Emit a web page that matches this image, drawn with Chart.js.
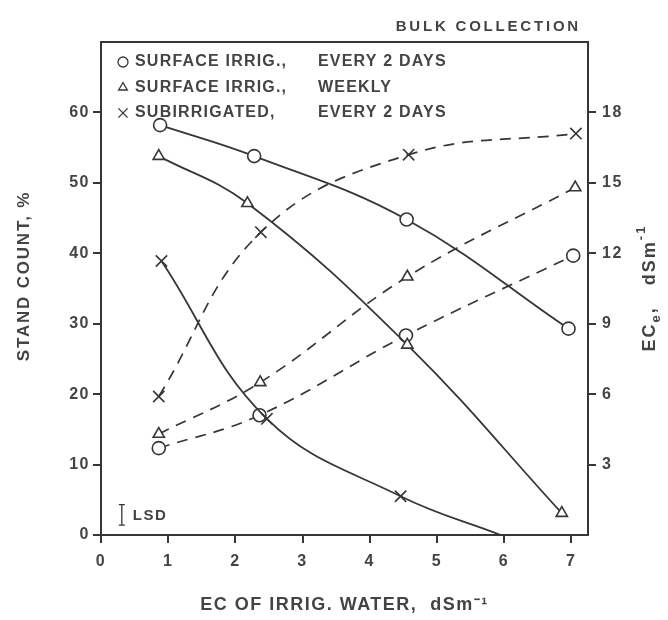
<!DOCTYPE html>
<html lang="en">
<head>
<meta charset="UTF-8">
<title>Stand count and ECe vs EC of irrigation water</title>
<script src="https://cdn.jsdelivr.net/npm/chart.js@4.4.1/dist/chart.umd.min.js"></script>
<style>
  html, body { margin: 0; padding: 0; background: #fff; }
  #wrap { width: 668px; height: 620px; }
</style>
</head>
<body>
<div id="wrap"><canvas id="myChart" width="668" height="620"></canvas></div>
<script>
// stand count, % (solid lines, left axis)
const surf2dX = [0.88, 2.28, 4.55, 6.96];
const surf2dStand = [58.2, 53.8, 44.8, 29.3];
const surfWkX = [0.86, 2.18, 4.56, 6.86];
const surfWkStand = [53.8, 47.1, 27.0, 3.1];
const subX = [0.90, 2.47, 4.46, 5.95];
const subStand = [38.9, 16.5, 5.5, 0];

// ECe, dS/m (dashed lines, right axis)
const surf2dEceX = [0.86, 2.36, 4.54, 7.03];
const surf2dEce = [3.7, 5.1, 8.5, 11.9];
const surfWkEceX = [0.86, 2.37, 4.56, 7.06];
const surfWkEce = [4.3, 6.5, 11.0, 14.8];
const subEceX = [0.86, 2.38, 4.58, 7.07];
const subEce = [5.9, 12.9, 16.2, 17.1];

// axis ticks
const xTicks = [0, 1, 2, 3, 4, 5, 6, 7];
const standTicks = [0, 10, 20, 30, 40, 50, 60];
const eceTicks = [3, 6, 9, 12, 15, 18];

// LSD bar (stand count units)
const lsdX = 0.31;
const lsdLow = 1.4;
const lsdHigh = 4.3;

const legendRows = [
    { style: 'circle', r: 5, a: 'SURFACE IRRIG.,', b: 'EVERY 2 DAYS' },
    { style: 'triangle', r: 5, a: 'SURFACE IRRIG.,', b: 'WEEKLY' },
    { style: 'crossRot', r: 6.5, a: 'SUBIRRIGATED,', b: 'EVERY 2 DAYS' }
];

const ink = '#363636';
const textInk = '#444';
const fam = "'Liberation Sans', Arial, sans-serif";

var pts = function(xs, ys) {
    return xs.map(function(x, i) { return { x: x, y: ys[i] }; });
};

var series = function(label, xs, ys, style, axis, dashed) {
    return {
        label: label,
        data: pts(xs, ys),
        yAxisID: axis,
        borderColor: ink,
        borderWidth: dashed ? 1.7 : 1.8,
        borderDash: dashed ? [11, 8] : [],
        pointStyle: style,
        pointRadius: style == 'crossRot' ? 8 : 6.5,
        pointBorderWidth: 1.6,
        pointBorderColor: ink,
        pointBackgroundColor: '#fff',
        tension: 0.4,
        fill: false
    };
};

var subSolid = series('Subirrigated, every 2 days', subX, subStand, 'crossRot', 'y', false);
subSolid.pointRadius = [8, 8, 8, 0];

var keepTicks = function(list) {
    return function(scale) {
        scale.ticks = list.map(function(v) { return { value: v }; });
    };
};

// draws text pieces along a baseline, small pieces shifted (sub/superscript)
var drawPieces = function(c, parts) {
    let w = 0;
    parts.forEach(function(p) { c.font = p.f; w += c.measureText(p.t).width; });
    let px = -w / 2;
    c.textAlign = 'left';
    parts.forEach(function(p) {
        c.font = p.f;
        c.fillText(p.t, px, p.dy);
        px += c.measureText(p.t).width;
    });
};

var paper = {
    id: 'paper',
    beforeDraw: function(chart) {
        const c = chart.ctx;
        c.save();
        c.fillStyle = '#fff';
        c.fillRect(0, 0, chart.width, chart.height);
        c.restore();
        c.letterSpacing = '1.5px';
    },
    afterDraw: function(chart) {
        const c = chart.ctx;
        const a = chart.chartArea;
        const xs = chart.scales.x, ys = chart.scales.y;
        c.save();
        // frame
        c.strokeStyle = ink;
        c.lineWidth = 2;
        c.strokeRect(a.left, a.top, a.right - a.left, a.bottom - a.top);

        // LSD bar
        const lx = xs.getPixelForValue(lsdX);
        const y1 = ys.getPixelForValue(lsdLow), y2 = ys.getPixelForValue(lsdHigh);
        c.lineWidth = 1.3;
        c.beginPath();
        c.moveTo(lx, y1); c.lineTo(lx, y2);
        c.moveTo(lx - 3, y1); c.lineTo(lx + 3, y1);
        c.moveTo(lx - 3, y2); c.lineTo(lx + 3, y2);
        c.stroke();
        c.fillStyle = textInk;
        c.font = 'bold 15px ' + fam;
        c.letterSpacing = '1.5px';
        c.textBaseline = 'middle';
        c.textAlign = 'left';
        c.fillText('LSD', lx + 11, (y1 + y2) / 2 + 1);

        // legend
        legendRows.forEach(function(r, i) {
            const y = 62 + i * 25.5;
            c.fillStyle = '#fff';
            c.strokeStyle = ink;
            c.lineWidth = 1.3;
            Chart.helpers.drawPoint(c, {
                pointStyle: r.style, radius: r.r, borderWidth: 1.4
            }, 123, y);
            c.font = 'bold 16px ' + fam;
            c.letterSpacing = '1.2px';
            c.fillStyle = textInk;
            c.textAlign = 'left';
            c.fillText(r.a, 135, y);
            c.fillText(r.b, 318, y);
        });

        // top note
        c.font = 'bold 15px ' + fam;
        c.letterSpacing = '2.8px';
        c.textAlign = 'right';
        c.fillText('BULK COLLECTION', 581, 27);

        // left axis title, reading upward
        c.save();
        c.translate(24, 276);
        c.rotate(-Math.PI / 2);
        c.letterSpacing = '1.8px';
        drawPieces(c, [{ t: 'STAND COUNT, %', f: 'bold 17px ' + fam, dy: 0 }]);
        c.restore();

        // right axis title: EC_e, dSm^-1 reading upward
        c.save();
        c.translate(650, 288);
        c.rotate(-Math.PI / 2);
        c.letterSpacing = '2px';
        const big = 'bold 18px ' + fam, small = 'bold 13px ' + fam;
        drawPieces(c, [
            { t: 'EC', f: big, dy: 0 },
            { t: 'e', f: small, dy: 6 },
            { t: ',   dSm', f: big, dy: 0 },
            { t: '-1', f: small, dy: -9 }
        ]);
        c.restore();
        c.restore();
    }
};

Chart.defaults.font.family = fam;
Chart.defaults.font.weight = 'bold';
Chart.defaults.color = textInk;

const ctx = document.getElementById('myChart').getContext('2d');
const myChart = new Chart(ctx, {
    type: 'line',
    data: {
        datasets: [
            series('Surface irrig., every 2 days', surf2dX, surf2dStand, 'circle', 'y', false),
            series('Surface irrig., weekly', surfWkX, surfWkStand, 'triangle', 'y', false),
            subSolid,
            series('ECe surface irrig., every 2 days', surf2dEceX, surf2dEce, 'circle', 'y2', true),
            series('ECe surface irrig., weekly', surfWkEceX, surfWkEce, 'triangle', 'y2', true),
            series('ECe subirrigated, every 2 days', subEceX, subEce, 'crossRot', 'y2', true)
        ]
    },
    options: {
        responsive: false,
        animation: false,
        devicePixelRatio: 1,
        layout: { padding: { top: 42, left: 0, right: 0, bottom: 0 } },
        plugins: {
            legend: { display: false },
            tooltip: { enabled: false }
        },
        scales: {
            x: {
                type: 'linear',
                position: 'bottom',
                min: 0,
                max: 7.25,
                afterBuildTicks: keepTicks(xTicks),
                afterFit: function(s) { s.height = 85; },
                grid: { drawOnChartArea: false, tickLength: 8, color: ink, lineWidth: 2 },
                border: { display: true, color: ink, width: 2 },
                ticks: { font: { size: 16, weight: 'bold' }, padding: 9, color: textInk, maxRotation: 0 },
                title: {
                    display: true,
                    text: 'EC OF IRRIG. WATER,  dSm\u207B\u00B9',
                    font: { size: 18, weight: 'bold' },
                    color: textInk,
                    padding: { top: 0, bottom: 4 }
                }
            },
            y: {
                position: 'left',
                min: 0,
                max: 70,
                afterBuildTicks: keepTicks(standTicks),
                afterFit: function(s) { s.width = 101; },
                grid: { drawOnChartArea: false, tickLength: 8, color: ink, lineWidth: 2 },
                border: { display: true, color: ink, width: 2 },
                ticks: { font: { size: 16, weight: 'bold' }, padding: 3, color: textInk }
            },
            y2: {
                position: 'right',
                min: 0,
                max: 21,
                afterBuildTicks: keepTicks(eceTicks),
                afterFit: function(s) { s.width = 80; },
                grid: { drawOnChartArea: false, tickLength: 8, color: ink, lineWidth: 2 },
                border: { display: true, color: ink, width: 2 },
                ticks: { font: { size: 16, weight: 'bold' }, padding: 6, color: textInk }
            }
        }
    },
    plugins: [paper]
});
</script>
</body>
</html>
